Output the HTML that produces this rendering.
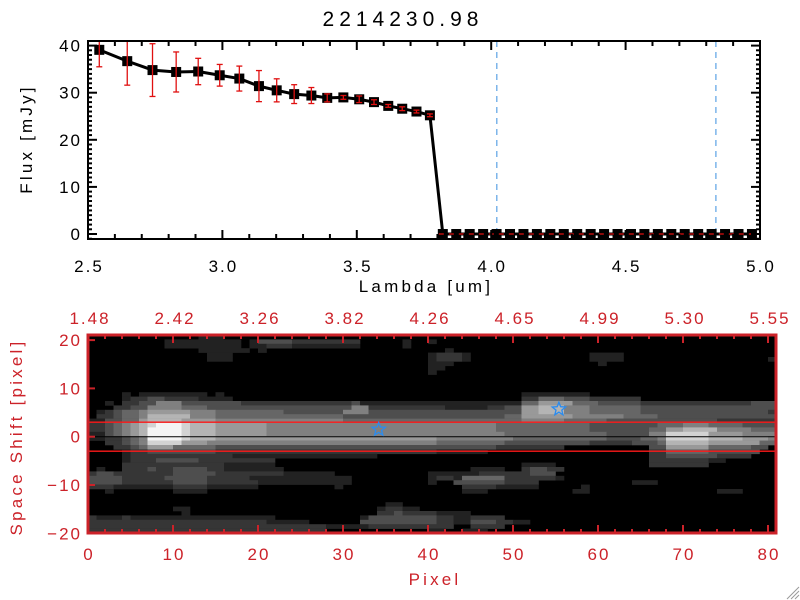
<!DOCTYPE html>
<html><head><meta charset="utf-8"><style>
html,body{margin:0;padding:0;background:#fff;}
svg{display:block;font-family:"Liberation Sans",sans-serif;}
.tl{font-size:17px;letter-spacing:2px;}
.at{font-size:17px;letter-spacing:3.2px;}
</style></head><body>
<svg id="chart" width="800" height="600" viewBox="0 0 800 600" xmlns="http://www.w3.org/2000/svg">
<rect x="0" y="0" width="800" height="600" fill="#fff"/>
<text x="403" y="26" text-anchor="middle" font-size="21" letter-spacing="5" fill="#000">2214230.98</text>
<g id="topPanel"></g>
<g id="botPanel"></g>
<g stroke="#999" stroke-width="1">
<line x1="787" y1="599" x2="799" y2="587"/><line x1="791" y1="599" x2="799" y2="591"/><line x1="795" y1="599" x2="799" y2="595"/>
</g>
</svg>
<script>
// ---------- top spectrum data ----------
const lambdas = [2.542,2.646,2.740,2.828,2.910,2.990,3.063,3.136,3.202,3.267,3.331,3.390,3.450,3.509,3.564,3.617,3.669,3.722,3.772,
 3.82,3.87,3.92,3.97,4.02,4.07,4.12,4.17,4.22,4.27,4.32,4.37,4.42,4.47,4.52,4.57,4.62,4.67,4.72,4.77,4.82,4.87,4.92,4.97];
const fluxes = [39.1,36.7,34.8,34.4,34.5,33.7,33.0,31.4,30.5,29.7,29.4,28.9,29.0,28.6,28.0,27.2,26.6,26.0,25.2,
 0,0,0,0,0,0,0,0,0,0,0,0,0,0,0,0,0,0,0,0,0,0,0,0];
const fluxErrs = [3.6,5.1,5.6,4.25,2.8,2.3,2.65,3.3,2.45,2.0,1.7,0.85,0.4,0.7,0.5,0.3,0.4,0.3,0.3,
 0.1,0.1,0.1,0.1,0.1,0.1,0.1,0.1,0.1,0.1,0.1,0.1,0.1,0.1,0.1,0.1,0.1,0.1,0.1,0.1,0.1,0.1,0.1,0.1];
const xTickLabels = ["2.5","3.0","3.5","4.0","4.5","5.0"];
const yTickLabels = ["0","10","20","30","40"];
const markerLines = [4.021, 4.836];

// ---------- bottom image data ----------
const pixelTickLabels = ["0","10","20","30","40","50","60","70","80"];
const wavelengthTickLabels = ["1.48","2.42","3.26","3.82","4.26","4.65","4.99","5.30","5.55"];
const shiftTickLabels = ["20","10","0","-10","-20"];
const starCols = [34.2, 55.4];
const starShifts = [1.5, 5.7];
const apertureShifts = [3, -3];
const grayLevels = ["#000000","#222222","#363636","#4e4e4e","#666666","#808080","#999999","#b4b4b4","#d2d2d2","#f4f4f4"];
const imageRows = [
"0x13 1x3",
"0x9 1x9 0x1 1x1 3x4 2x8 0x5 1x1 0x2 1x1",
"0x9 1x9 0x1 1x2 2x3 1x8 0x5 1x1",
"0x13 1x6 0x1 1x1 0x21 1x1",
"0x14 1x3 0x23 1x1 2x3 1x1 0x14 1x4",
"0x14 1x3 0x23 1x1 2x3 1x1 0x14 1x4 0x17 1x1",
"0x40 1x3 0x17 1x1",
"0x40 1x2",
"0x40 1x1",
"0x81","0x81","0x81","0x81",
"0x4 1x1 0x1 1x8 0x1 1x1 0x35 1x8",
"0x4 1x1 2x2 3x2 2x4 1x4 0x34 2x2 4x3 3x3 2x6",
"0x2 1x1 0x1 2x2 3x2 5x3 3x7 2x12 2x1 3x1 1x3 1x1 1x15 4x2 6x4 4x3 3x5 2x13 3x3",
"0x3 2x2 3x2 5x4 4x3 3x4 3x12 3x1 5x1 5x1 2x9 1x5 2x2 3x2 6x2 7x3 5x3 4x6 3x16",
"0x1 1x1 2x1 3x1 4x2 5x1 6x5 5x3 4x8 3x7 5x3 3x18 6x2 7x3 5x3 4x6 3x15 2x1",
"0x1 2x2 3x1 4x2 5x1 7x5 5x3 4x15 3x19 4x2 6x6 5x6 4x4 3x14",
"1x2 3x2 4x2 6x1 7x4 6x4 5x15 4x21 5x5 4x5 3x13 2x7",
"2x2 3x1 4x1 5x1 6x1 7x1 8x1 9x3 8x1 7x3 6x6 5x27 4x11 3x8 4x3 5x3 4x4 3x4",
"2x2 3x1 4x1 5x1 6x1 7x1 9x4 8x1 7x3 6x6 5x27 4x11 3x7 4x2 6x2 7x4 5x4 4x3",
"1x2 3x1 4x1 5x1 6x1 7x1 9x4 8x1 7x3 6x6 5x28 4x12 3x5 5x2 8x5 6x4 5x4",
"1x2 2x2 3x1 4x1 5x1 9x4 8x1 7x3 6x26 5x9 4x11 3x4 4x2 5x1 8x5 7x4 6x3 5x1",
"0x2 2x2 3x1 4x1 5x1 8x4 6x3 5x27 4x8 3x10 2x5 3x3 4x1 7x5 6x6 4x2",
"0x3 2x2 3x1 4x1 6x3 4x5 3x33 2x8 0x10 3x2 6x5 4x5 3x2",
"0x4 1x1 2x2 3x8 2x26 1x6 0x19 2x2 4x5 3x6",
"0x4 1x1 2x12 1x17 0x32 2x2 3x6 2x4",
"0x4 1x1 2x3 3x5 2x9 0x44 2x7 1x2",
"0x4 2x12 1x6 0x29 1x4 0x11 2x7",
"0x1 1x1 0x2 2x3 3x1 2x2 3x4 2x2 1x7 0x22 1x4 0x2 2x1 3x2 2x2",
"2x1 3x2 2x7 3x5 2x8 1x6 0x11 1x6 2x4 2x2 3x3",
"3x4 2x5 3x5 2x5 1x12 0x9 1x1 2x2 1x1 4x5 2x6 1x1",
"3x4 2x6 3x4 2x6 1x11 0x9 1x1 0x2 3x6 2x4 0x11 1x3",
"2x3 1x7 2x4 1x6 0x9 1x1 0x14 2x4 1x5 0x5 1x1",
"0x2 1x1 0x7 1x4 0x30 1x3 0x10 1x2 0x15 1x3",
"0x81","0x81",
"0x35 1x2",
"0x10 1x2 0x22 1x1 2x2 1x2",
"0x11 1x1 0x22 2x2 3x1 2x3 2x1 1x4",
"2x1 1x3 2x1 1x8 1x9 0x10 1x1 3x8 2x2 1x2 2x4",
"2x21 1x5 0x6 3x9 2x2 1x2 3x3 2x2 1x2",
"2x28 1x5 2x10 0x2 2x4",
"2x28 0x12 1x2 0x2 1x3"
];

const NS = "http://www.w3.org/2000/svg";
function mk(parent, tag, attrs, text){
  const e = document.createElementNS(NS, tag);
  for (const k in attrs) e.setAttribute(k, attrs[k]);
  if (text !== undefined) e.textContent = text;
  parent.appendChild(e);
  return e;
}

// ===== TOP PANEL =====
const topG = document.getElementById('topPanel');
const TX0=88, TX1=760, TY0=41, TY1=239;
const xT = l => TX0 + (l-2.5)/2.5*(TX1-TX0);
const yT = f => 234 - f*4.71;

markerLines.forEach((l,i)=>{
  const e = mk(topG,'line',{x1:xT(l),x2:xT(l),y1:TY0,y2:TY1,stroke:'#3a8fe0','stroke-width':1,'stroke-dasharray':'6,5'});
  
  
});

const pts = lambdas.map((l,i)=>xT(l)+','+yT(fluxes[i])).join(' ');
const pl = mk(topG,'polyline',{points:pts,fill:'none',stroke:'#000','stroke-width':3,'stroke-linejoin':'round'});



lambdas.forEach((l,i)=>{
  const e = mk(topG,'rect',{x:xT(l)-5,y:yT(fluxes[i])-5,width:10,height:10,fill:'#000'});
  
  
});
{
  const zi = fluxes.findIndex(f=>f===0);
  const e = mk(topG,'line',{x1:xT(lambdas[zi])-4,x2:TX1,y1:yT(0),y2:yT(0),stroke:'#e01010','stroke-width':1.3,'stroke-dasharray':'5,5'});
  
  
}
lambdas.forEach((l,i)=>{
  if (fluxes[i]===0) return;
  const x = xT(l);
  const y1 = Math.max(TY0, yT(fluxes[i]+fluxErrs[i])), y2 = yT(fluxes[i]-fluxErrs[i]);
  const g = mk(topG,'g',{stroke:'#e01010','stroke-width':1.3});
  
  
  mk(g,'line',{x1:x,x2:x,y1:y1,y2:y2});
  if (yT(fluxes[i]+fluxErrs[i])>=TY0) mk(g,'line',{x1:x-3,x2:x+3,y1:y1,y2:y1});
  mk(g,'line',{x1:x-3,x2:x+3,y1:y2,y2:y2});
});

{
  const e = mk(topG,'rect',{x:TX0,y:TY0,width:TX1-TX0,height:TY1-TY0,fill:'none',stroke:'#000','stroke-width':2});
  
  
}
for (let k=0;k<=25;k++){
  const l = 2.5 + k*0.1, x = xT(l), L = (k%5===0)?9:5;
  mk(topG,'line',{x1:x,x2:x,y1:TY1,y2:TY1-L,stroke:'#000','stroke-width':2});
  mk(topG,'line',{x1:x,x2:x,y1:TY0,y2:TY0+L,stroke:'#000','stroke-width':2});
}
xTickLabels.forEach(s=>{
  const e = mk(topG,'text',{x:xT(parseFloat(s))+1,y:272,'text-anchor':'middle','class':'tl',fill:'#000'},s);
  
  
});
for (let v=-1; v<=41; v++){
  const y = yT(v), L = (v%10===0)?9:4;
  if (y<TY0||y>TY1) continue;
  mk(topG,'line',{x1:TX0,x2:TX0+L,y1:y,y2:y,stroke:'#000','stroke-width':2});
  mk(topG,'line',{x1:TX1,x2:TX1-L,y1:y,y2:y,stroke:'#000','stroke-width':2});
}
yTickLabels.forEach(s=>{
  const e = mk(topG,'text',{x:82,y:yT(parseFloat(s))+6,'text-anchor':'end','class':'tl',fill:'#000'},s);
  
  
});
{
  let e = mk(topG,'text',{x:426,y:292,'text-anchor':'middle','class':'at',fill:'#000'},'Lambda [um]');
  
  
  e = mk(topG,'text',{x:0,y:0,'text-anchor':'middle','class':'at',fill:'#000',transform:'translate(32,139) rotate(-90)'},'Flux [mJy]');
  
  
}

// ===== BOTTOM PANEL =====
const botG = document.getElementById('botPanel');
const BX0=88, BX1=776, BY0=335, BY1=533;
const RED='#cc2229';
const xB = c => BX0 + c*8.5;
const yB = v => 436.7 - v*4.83;

const img = mk(botG,'g',{});


mk(img,'rect',{x:BX0,y:BY0,width:BX1-BX0,height:BY1-BY0,fill:'#000'});
const nRows = imageRows.length, rh = (BY1-BY0)/nRows;
imageRows.forEach((row,r)=>{
  let c = 0;
  row.trim().split(/\s+/).forEach(tok=>{
    const parts = tok.split('x').map(Number);
    const lv = parts[0], cnt = parts[1];
    if (lv>0){
      const w = Math.min(cnt, 81-c);
      if (w>0){
        const e = mk(img,'rect',{x:xB(c),y:BY0+r*rh,width:w*8.5+0.3,height:rh+0.3,fill:grayLevels[lv]});
        
        
      }
    }
    c += cnt;
  });
});
apertureShifts.forEach(v=>{
  const e = mk(botG,'line',{x1:BX0,x2:BX1,y1:yB(v),y2:yB(v),stroke:'#ff1a1a','stroke-width':1.3});
  
  
});
{
  const e = mk(botG,'line',{x1:BX0,x2:BX1,y1:yB(0),y2:yB(0),stroke:'#000','stroke-width':1});
  
  
}
function starPts(cx,cy,R,r){
  const p=[];
  for(let k=0;k<10;k++){const a=-Math.PI/2+k*Math.PI/5, rr=k%2?r:R; p.push((cx+rr*Math.cos(a)).toFixed(1)+','+(cy+rr*Math.sin(a)).toFixed(1));}
  return p.join(' ');
}
starCols.forEach((c,i)=>{
  const e = mk(botG,'polygon',{points:starPts(xB(c),yB(starShifts[i]),7,3),fill:'none',stroke:'#2a8cf0','stroke-width':1.3});
  
  
});
{
  const e = mk(botG,'rect',{x:BX0,y:BY0,width:BX1-BX0,height:BY1-BY0,fill:'none',stroke:RED,'stroke-width':3});
  
  
}
for (let c=0;c<=80;c+=2){
  const x=xB(c), L=(c%10===0)?8:4;
  mk(botG,'line',{x1:x,x2:x,y1:BY1,y2:BY1-L,stroke:RED,'stroke-width':2});
  mk(botG,'line',{x1:x,x2:x,y1:BY0,y2:BY0+L,stroke:RED,'stroke-width':2});
}
for (let v=-20; v<=20; v+=10){
  mk(botG,'line',{x1:BX0,x2:BX0+7,y1:yB(v),y2:yB(v),stroke:RED,'stroke-width':2});
}
pixelTickLabels.forEach(s=>{
  const e = mk(botG,'text',{x:xB(parseFloat(s))+1,y:560,'text-anchor':'middle','class':'tl',fill:RED},s);
  
  
});
wavelengthTickLabels.forEach((s,i)=>{
  const e = mk(botG,'text',{x:xB(i*10)+2,y:324,'text-anchor':'middle','class':'tl',fill:RED},s);
  
  
});
shiftTickLabels.forEach(s=>{
  const e = mk(botG,'text',{x:82,y:yB(parseFloat(s))+6,'text-anchor':'end','class':'tl',fill:RED},s.replace('-','\u2212'));
  
  
});
{
  let e = mk(botG,'text',{x:435,y:585,'text-anchor':'middle','class':'at',fill:RED},'Pixel');
  
  
  e = mk(botG,'text',{x:0,y:0,'text-anchor':'middle','class':'at',fill:RED,transform:'translate(22,437) rotate(-90)'},'Space Shift [pixel]');
  
  
}
</script>
</body></html>
